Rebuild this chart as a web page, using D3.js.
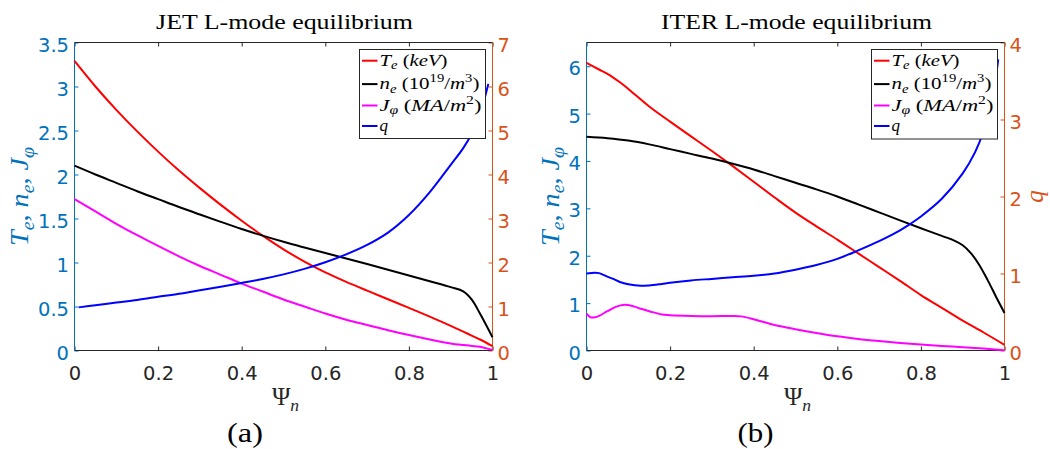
<!DOCTYPE html>
<html><head><meta charset="utf-8">
<script src="https://cdn.jsdelivr.net/npm/d3@7"></script>
<style>body{margin:0;background:#fff;} svg{display:block;} text{white-space:pre;}</style>
</head><body>
<svg id="chart" width="1050" height="449"></svg>
<script>
// ---------- DATA ----------
const xTicks = [0, 0.2, 0.4, 0.6, 0.8, 1];

// (a) JET
const jetPsi = [0,0.05,0.1,0.15,0.2,0.25,0.3,0.35,0.4,0.45,0.5,0.55,0.6,0.65,0.7,0.75,0.8,0.85,0.9,0.93,0.95,0.97,1.0];
const jetTe  = [6.58,6.00,5.47,4.98,4.52,4.09,3.69,3.31,2.95,2.61,2.30,2.02,1.775,1.56,1.36,1.165,0.97,0.77,0.56,0.43,0.34,0.25,0.10];
const jetNe  = [2.10,2.00,1.905,1.81,1.72,1.63,1.545,1.462,1.381,1.305,1.235,1.17,1.107,1.045,0.982,0.918,0.853,0.787,0.72,0.672,0.58,0.42,0.15];
const jetJ   = [1.72,1.58,1.44,1.31,1.19,1.07,0.96,0.86,0.76,0.67,0.58,0.50,0.42,0.35,0.29,0.23,0.175,0.125,0.08,0.062,0.052,0.043,0.005];
const jetQPsi = [0.01,0.05,0.1,0.15,0.2,0.25,0.3,0.35,0.4,0.45,0.5,0.55,0.6,0.65,0.7,0.75,0.8,0.85,0.9,0.93,0.95,0.97,0.99];
const jetQ    = [0.98,1.03,1.09,1.15,1.22,1.29,1.37,1.45,1.535,1.625,1.73,1.855,2.005,2.185,2.40,2.68,3.08,3.60,4.22,4.60,4.92,5.36,6.06];
const jetLeftTicks  = [0,0.5,1,1.5,2,2.5,3,3.5];
const jetRightTicks = [0,1,2,3,4,5,6,7];

// (b) ITER
const iterPsi = [0,0.03,0.05,0.08,0.1,0.15,0.2,0.25,0.3,0.35,0.4,0.45,0.5,0.55,0.6,0.65,0.7,0.75,0.8,0.85,0.9,0.95,1.0];
const iterTe  = [6.07,5.93,5.84,5.66,5.52,5.15,4.83,4.52,4.21,3.89,3.56,3.23,2.91,2.62,2.34,2.05,1.76,1.47,1.17,0.90,0.63,0.38,0.12];
const iterNePsi = [0,0.05,0.1,0.15,0.2,0.25,0.3,0.35,0.4,0.45,0.5,0.55,0.6,0.65,0.7,0.75,0.8,0.85,0.88,0.9,0.92,0.94,0.96,0.98,1.0];
const iterNe    = [4.51,4.48,4.43,4.35,4.25,4.15,4.05,3.94,3.82,3.68,3.54,3.40,3.25,3.085,2.915,2.745,2.58,2.42,2.32,2.22,2.05,1.80,1.48,1.13,0.79];
const iterJPsi = [0,0.01,0.02,0.03,0.05,0.07,0.09,0.11,0.13,0.15,0.18,0.2,0.25,0.3,0.35,0.37,0.4,0.45,0.5,0.55,0.6,0.65,0.7,0.75,0.8,0.85,0.9,0.95,1.0];
const iterJ    = [0.775,0.70,0.70,0.73,0.83,0.92,0.965,0.94,0.88,0.83,0.76,0.745,0.73,0.725,0.73,0.72,0.66,0.54,0.45,0.37,0.30,0.245,0.20,0.16,0.125,0.095,0.07,0.04,0.005];
const iterQPsi = [0,0.02,0.03,0.05,0.064,0.08,0.1,0.13,0.15,0.18,0.2,0.25,0.3,0.35,0.4,0.45,0.5,0.55,0.6,0.65,0.7,0.75,0.775,0.8,0.85,0.9,0.93,0.95,0.97,0.985];
const iterQ    = [1.00,1.01,1.005,0.96,0.93,0.89,0.86,0.84,0.845,0.865,0.88,0.91,0.93,0.95,0.97,1.00,1.05,1.11,1.19,1.30,1.42,1.56,1.645,1.74,1.97,2.30,2.58,2.85,3.24,3.78];
const iterLeftTicks  = [0,1,2,3,4,5,6];
const iterRightTicks = [0,1,2,3,4];

const titles = ["JET L-mode equilibrium", "ITER L-mode equilibrium"];
const captions = ["(a)", "(b)"];

// ---------- STYLE ----------
const BLUE = "#0072BD", ORANGE = "#D95319", DARK = "#262626";
const SERIF = "'Liberation Serif','Times New Roman',serif";
const SANS = "'DejaVu Sans','Liberation Sans',sans-serif";
const TICKFS = 19.5;
const yTop = 42.5, yBot = 350.5;

const svg = d3.select("#chart");
svg.append("rect").attr("width",1050).attr("height",449).attr("fill","#fff");

function richText(t, parts, fs){
  let cur = 0;
  parts.forEach(([s,k]) => {
    let shift = 0, size = fs, style = "italic";
    if (k === "r") style = "normal";
    if (k === "sub") { shift = 0.22*fs; size = 0.7*fs; }
    if (k === "sup") { shift = -0.4*fs; size = 0.7*fs; style = "normal"; }
    t.append("tspan").attr("dy", (shift-cur).toFixed(2)).attr("font-size", size)
      .attr("font-style", style).text(s);
    cur = shift;
  });
}
function placeText(parent, x, y, rot, anchor, target, fs, color, build){
  const g = parent.append("g");
  const t = g.append("text").attr("text-anchor", anchor).attr("font-family", SERIF)
    .attr("font-size", fs).attr("fill", color);
  build(t);
  let sx = 1;
  if (target) { const w = t.node().getBBox().width; if (w > 0) sx = target / w; }
  g.attr("transform", `translate(${x},${y})${rot ? ` rotate(${rot})` : ""} scale(${sx},1)`);
  return g;
}

const legendEntries = [
  {color:"#FF0000", parts:[["T","i"],["e","sub"],[" (","r"],["keV","i"],[")","r"]], w:69},
  {color:"#000000", parts:[["n","i"],["e","sub"],[" (10","r"],["19","sup"],["/","r"],["m","i"],["3","sup"],[")","r"]], w:101},
  {color:"#FF00FF", parts:[["J","i"],["\u03C6","sub"],[" (","r"],["MA","i"],["/","r"],["m","i"],["2","sup"],[")","r"]], w:103},
  {color:"#0000FF", parts:[["q","i"]], w:null}
];
const legendRowOff = [11.2, 34.6, 56, 76.5];

function panel(cfg){
  const x = d3.scaleLinear().domain([0,1]).range([cfg.x0, cfg.x1]);
  const yL = d3.scaleLinear().domain(cfg.leftDomain).range([yBot, yTop]);
  const yR = d3.scaleLinear().domain(cfg.rightDomain).range([yBot, yTop]);
  const g = svg.append("g");

  const ax = g.append("g").attr("transform", `translate(0,${yBot})`)
    .call(d3.axisBottom(x).tickValues(xTicks).tickSize(-4).tickSizeOuter(0).tickPadding(15.8).tickFormat(d=>String(d)));
  const at = g.append("g").attr("transform", `translate(0,${yTop})`)
    .call(d3.axisTop(x).tickValues(xTicks).tickSize(-4).tickSizeOuter(0).tickFormat(""));
  const al = g.append("g").attr("transform", `translate(${cfg.x0},0)`)
    .call(d3.axisLeft(yL).tickValues(cfg.leftTicks).tickSize(-4).tickSizeOuter(0).tickPadding(5.5).tickFormat(d=>String(d)));
  const ar = g.append("g").attr("transform", `translate(${cfg.x1},0)`)
    .call(d3.axisRight(yR).tickValues(cfg.rightTicks).tickSize(-4).tickSizeOuter(0).tickPadding(5).tickFormat(d=>String(d)));
  [[ax,DARK],[at,DARK],[al,BLUE],[ar,ORANGE]].forEach(([a,c]) => {
    a.select(".domain").remove();
    a.selectAll("line").attr("stroke", c).attr("stroke-width", 1);
    a.selectAll("text").attr("fill", c).attr("font-family", SANS).attr("font-size", TICKFS);
  });
  al.selectAll("text").attr("dy", "0.44em");
  ar.selectAll("text").attr("dy", "0.44em");
  ax.selectAll("text").attr("dy", "0.71em");

  g.append("line").attr("x1",cfg.x0).attr("x2",cfg.x1).attr("y1",yTop).attr("y2",yTop).attr("stroke",DARK);
  g.append("line").attr("x1",cfg.x0).attr("x2",cfg.x1).attr("y1",yBot).attr("y2",yBot).attr("stroke",DARK);
  g.append("line").attr("x1",cfg.x0).attr("x2",cfg.x0).attr("y1",yTop).attr("y2",yBot).attr("stroke",BLUE);
  g.append("line").attr("x1",cfg.x1).attr("x2",cfg.x1).attr("y1",yTop).attr("y2",yBot).attr("stroke",ORANGE);

  cfg.series.forEach(s => {
    const ys = s.axis === "L" ? yL : yR;
    const pts = s.psi.map((p,i) => [p, s.v[i]]);
    g.append("path").datum(pts)
      .attr("d", d3.line().x(d=>x(d[0])).y(d=>ys(d[1])).curve(d3.curveCatmullRom.alpha(0.5)))
      .attr("fill","none").attr("stroke", s.color).attr("stroke-width", 2)
      .attr("stroke-linejoin","round").attr("stroke-linecap","butt");
  });

  const lg = g.append("g");
  const bx = cfg.legend;
  lg.append("rect").attr("x",bx.x).attr("y",bx.y).attr("width",bx.w).attr("height",bx.h)
    .attr("fill","#fff").attr("stroke",DARK).attr("stroke-width",1);
  legendEntries.forEach((e,i) => {
    const ry = bx.y + legendRowOff[i];
    lg.append("line").attr("x1",bx.x+2.5).attr("x2",bx.x+18).attr("y1",ry).attr("y2",ry)
      .attr("stroke",e.color).attr("stroke-width",2);
    placeText(lg, bx.x+20, ry+5, 0, "start", e.w ? e.w - 1 : null, 17, "#000",
      t => richText(t, e.parts, 17));
  });

  const cx = (cfg.x0 + cfg.x1)/2, cy = (yTop + yBot)/2;
  placeText(g, cx+1, 29, 0, "middle", cfg.titleW, 22, "#000", t => t.text(cfg.title));
  placeText(g, cx+2, 405, 0, "middle", null, 25, DARK, t => richText(t, [["\u03A8","r"],["n","sub"]], 25));
  placeText(g, cfg.capX, 442, 0, "middle", 36, 28, "#000", t => t.text(cfg.caption));
  placeText(g, cfg.yLabX, cy, -90, "middle", 99, 26, BLUE,
    t => richText(t, [["T","i"],["e","sub"],[", ","r"],["n","i"],["e","sub"],[", ","r"],["J","i"],["\u03C6","sub"]], 26));
  if (cfg.rightLabel) {
    placeText(g, cfg.rLabX, cy, -90, "middle", null, 25, ORANGE, t => richText(t, [["q","i"]], 25));
  }
}

panel({
  x0: 74.5, x1: 492.5, leftDomain:[0,3.5], rightDomain:[0,7],
  leftTicks: jetLeftTicks, rightTicks: jetRightTicks,
  series: [
    {psi: jetPsi, v: jetTe, axis:"R", color:"#FF0000"},
    {psi: jetPsi, v: jetNe, axis:"L", color:"#000000"},
    {psi: jetPsi, v: jetJ,  axis:"L", color:"#FF00FF"},
    {psi: jetQPsi, v: jetQ, axis:"R", color:"#0000FF"}
  ],
  legend: {x:359.5, y:49.5, w:126, h:89},
  title: titles[0], titleW: 257, caption: captions[0], capX: 245,
  yLabX: 28, rightLabel: false
});
panel({
  x0: 586.5, x1: 1004.5, leftDomain:[0,6.5], rightDomain:[0,4],
  leftTicks: iterLeftTicks, rightTicks: iterRightTicks,
  series: [
    {psi: iterPsi, v: iterTe, axis:"L", color:"#FF0000"},
    {psi: iterNePsi, v: iterNe, axis:"L", color:"#000000"},
    {psi: iterJPsi, v: iterJ, axis:"L", color:"#FF00FF"},
    {psi: iterQPsi, v: iterQ, axis:"R", color:"#0000FF"}
  ],
  legend: {x:871.5, y:49.5, w:126, h:89.5},
  title: titles[1], titleW: 271, caption: captions[1], capX: 755.5,
  yLabX: 558.5, rightLabel: true, rLabX: 1043
});
</script>
</body></html>
